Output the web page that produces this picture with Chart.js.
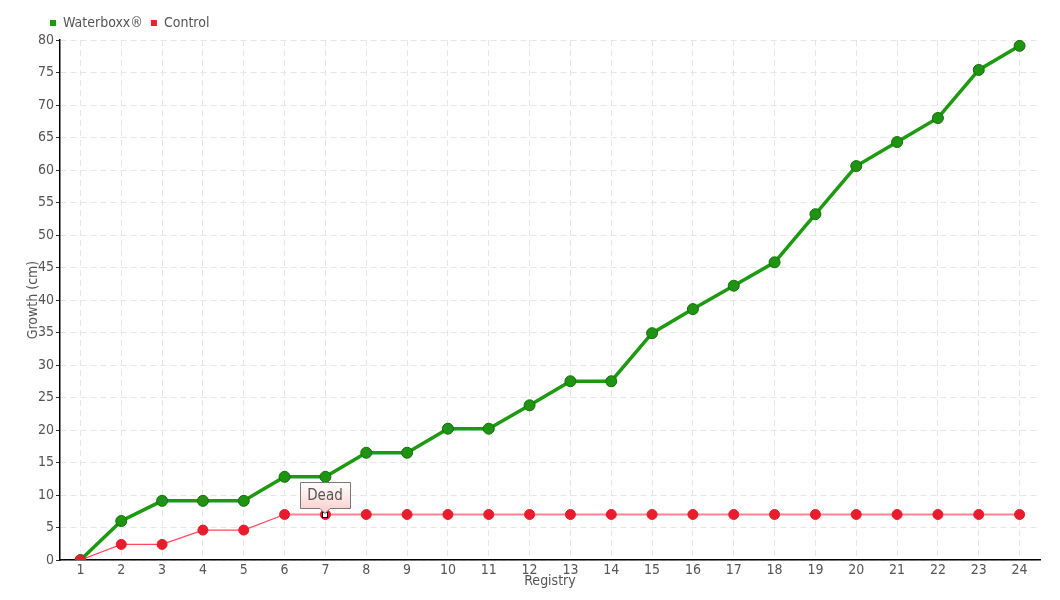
<!DOCTYPE html>
<html><head><meta charset="utf-8">
<script src="https://cdn.jsdelivr.net/npm/chart.js@4/dist/chart.umd.min.js"></script>
<style>html,body{margin:0;padding:0;background:#fff}#wrap{width:1060px;height:600px}</style>
</head><body><div id="wrap"><canvas id="c" width="1060" height="600"></canvas></div>
<script>
const categories = ['1','2','3','4','5','6','7','8','9','10','11','12','13','14','15','16','17','18','19','20','21','22','23','24'];
const waterboxx = [0,6.0,9.1,9.1,9.1,12.8,12.8,16.5,16.5,20.2,20.2,23.8,27.5,27.5,34.9,38.6,42.2,45.8,53.2,60.6,64.3,68.0,75.4,79.1];
const control = [0,2.4,2.4,4.6,4.6,7.0,7.0,7.0,7.0,7.0,7.0,7.0,7.0,7.0,7.0,7.0,7.0,7.0,7.0,7.0,7.0,7.0,7.0,7.0];
const deadIndex = 6;
const deadLabel = 'Dead';
const FONT = '"DejaVu Sans Condensed", "Liberation Sans Narrow", Roboto, sans-serif';

const deadPlugin = {
  id: 'dead',
  afterLayout(chart) {
    if (chart.legend) { chart.legend.left += 17; chart.legend.right += 17; }
  },
  afterDatasetsDraw(chart) {
    const ctx = chart.ctx;
    const pt = chart.getDatasetMeta(1).data[deadIndex];
    const x = Math.round(pt.x), y = Math.round(pt.y);
    ctx.save();
    ctx.fillStyle = '#fff'; ctx.strokeStyle = '#000'; ctx.lineWidth = 1;
    ctx.fillRect(x - 2.5, y - 2.5, 5, 5); ctx.strokeRect(x - 2.5, y - 2.5, 5, 5);
    const w = 50, h = 26, bx = x - 25, by = y - 33;
    const g = ctx.createLinearGradient(0, by, 0, by + h);
    g.addColorStop(0, '#ffffff'); g.addColorStop(1, '#fcd4d4');
    ctx.beginPath();
    ctx.moveTo(bx + 0.5, by + 0.5); ctx.lineTo(bx + w + 0.5, by + 0.5); ctx.lineTo(bx + w + 0.5, by + h + 0.5);
    ctx.lineTo(x + 5, by + h + 0.5); ctx.lineTo(x, by + h + 5.5); ctx.lineTo(x - 5, by + h + 0.5);
    ctx.lineTo(bx + 0.5, by + h + 0.5); ctx.closePath();
    ctx.fillStyle = g; ctx.fill();
    ctx.strokeStyle = '#777'; ctx.lineWidth = 1; ctx.stroke();
    ctx.fillStyle = '#555'; ctx.font = '15px ' + FONT; ctx.textAlign = 'center'; ctx.textBaseline = 'middle';
    ctx.fillText(deadLabel, x, by + h / 2 + 1);
    ctx.restore();
  }
};

new Chart(document.getElementById('c'), {
  type: 'line',
  data: {
    labels: categories,
    datasets: [
      { label: 'Waterboxx®', data: waterboxx, borderColor: '#1d9a0f', backgroundColor: '#1d9a0f',
        pointBackgroundColor: '#1e9412', pointBorderColor: '#156e0b', pointBorderWidth: 1,
        borderWidth: 3.5, pointRadius: 5.5, tension: 0, order: 1 },
      { label: 'Control', data: control, borderColor: '#ff7a88', backgroundColor: '#ee1c2c',
        pointBackgroundColor: '#e81c2c', pointBorderColor: '#e81c2c', pointBorderWidth: 1,
        borderWidth: 2, pointRadius: 5, tension: 0, order: 0,
        segment: {
          borderColor: c => c.p0DataIndex < 5 ? '#ff4a5a' : '#ff8292',
          borderWidth: c => c.p0DataIndex < 5 ? 1.3 : 2
        } }
    ]
  },
  options: {
    responsive: false, animation: false, devicePixelRatio: 1,
    layout: { padding: { left: 25, right: 20, top: 8, bottom: 0 } },
    plugins: {
      tooltip: { enabled: false },
      legend: { display: true, position: 'top', align: 'start',
        labels: { boxWidth: 6, boxHeight: 6, padding: 8, color: '#555', font: { family: FONT, size: 14 },
          sort: (a, b) => a.datasetIndex - b.datasetIndex,
          generateLabels: chart => Chart.defaults.plugins.legend.labels.generateLabels(chart).map(l => {
            const ds = chart.data.datasets[l.datasetIndex];
            l.fillStyle = ds.backgroundColor; l.strokeStyle = ds.backgroundColor; l.lineWidth = 0; return l; }) } }
    },
    scales: {
      x: {
        offset: true,
        grid: { color: '#e6e6e6', drawTicks: false, offset: false },
        border: { color: '#000', width: 1.5, dash: [6, 4] },
        ticks: { color: '#555', font: { family: FONT, size: 14 }, padding: 2, maxRotation: 0 },
        title: { display: true, text: 'Registry', color: '#555', font: { family: FONT, size: 14 }, padding: { top: 0, bottom: 10 } },
        afterFit: s => { s.height = 40; }
      },
      y: {
        min: 0, max: 80,
        grid: { color: '#e6e6e6', tickColor: '#333', tickLength: 4 },
        border: { color: '#000', width: 1.5, dash: [6, 4] },
        ticks: { stepSize: 5, color: '#555', font: { family: FONT, size: 14 }, padding: 2 },
        title: { display: true, text: 'Growth (cm)', color: '#555', font: { family: FONT, size: 14 }, padding: 0 },
        afterFit: s => { s.width = 35; }
      }
    }
  },
  plugins: [deadPlugin]
});
</script>
</body></html>
